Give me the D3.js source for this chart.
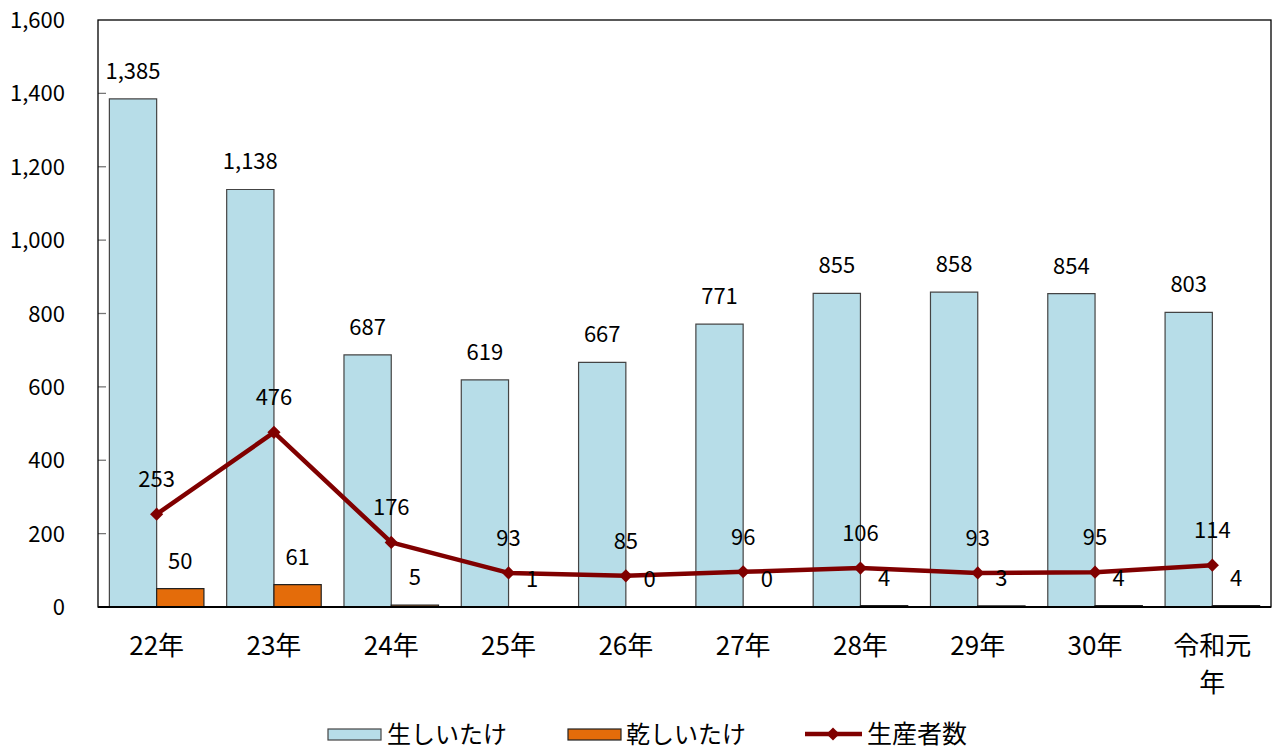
<!DOCTYPE html>
<html><head><meta charset="utf-8">
<script src="https://cdn.jsdelivr.net/npm/d3@7"></script>
<style>body{margin:0;background:#fff}svg{display:block}text{font-family:"Noto Sans CJK JP","Noto Sans",sans-serif;fill:#000}</style>
</head><body>
<svg id="c" width="1274" height="749"></svg>
<script>
const categories = ["22年","23年","24年","25年","26年","27年","28年","29年","30年","令和元年"];
const namaShiitake = [1385,1138,687,619,667,771,855,858,854,803];
const hoshiShiitake = [50,61,5,1,0,0,4,3,4,4];
const producers = [253,476,176,93,85,96,106,93,95,114];
const yTicks = [0,200,400,600,800,1000,1200,1400,1600];
const seriesNames = ["生しいたけ","乾しいたけ","生産者数"];

const svg = d3.select("#c");
const L = 98, R = 1271, T = 20, B = 607;
const x = d3.scaleBand().domain(categories).range([L, R]);
const y = d3.scaleLinear().domain([0,1600]).range([B, T]);
const bw = x.bandwidth()*0.403;
const fmt = d3.format(",");
const blue = "#b7dde8", orange = "#e46c0a", red = "#800000";

// y ticks
svg.append("g").selectAll("line").data(yTicks.slice(1,-1)).join("line")
  .attr("x1", L).attr("x2", L+8).attr("y1", d=>y(d)).attr("y2", d=>y(d))
  .attr("stroke", "#777").attr("stroke-width", 1.3);
svg.append("g").selectAll("text").data(yTicks).join("text")
  .attr("x", 65).attr("y", d=>y(d)+8).attr("text-anchor","end")
  .attr("font-size", 22).text(d=>fmt(d));

function barPath(x0, v){
  const y0 = y(0), y1 = y(v);
  return `M${x0},${y0}V${y1}H${x0+bw}V${y0}`;
}
const cx = d => x(d) + x.bandwidth()/2;

// blue bars
svg.append("g").selectAll("path").data(categories).join("path")
  .attr("d", (d,i)=>barPath(cx(d)-bw, namaShiitake[i]) + "Z")
  .attr("fill", blue).attr("stroke", "#444").attr("stroke-width", 1.2);
// orange bars
svg.append("g").selectAll("path").data(categories).join("path")
  .attr("d", (d,i)=>barPath(cx(d), hoshiShiitake[i]) + (hoshiShiitake[i]>0?"Z":""))
  .attr("fill", orange).attr("stroke", "#222").attr("stroke-width", 1.2);

// frame
svg.append("rect").attr("x", L).attr("y", T).attr("width", R-L).attr("height", B-T)
  .attr("fill","none").attr("stroke","#000").attr("stroke-width",1.3);
svg.append("line").attr("x1",L).attr("x2",R).attr("y1",B).attr("y2",B).attr("stroke","#000").attr("stroke-width",2);

// line
const line = d3.line().x((d,i)=>cx(categories[i])).y(d=>y(d));
svg.append("path").datum(producers).attr("d", line)
  .attr("fill","none").attr("stroke", red).attr("stroke-width", 4.5).attr("stroke-linejoin","round");
const diamond = d3.symbol().type(d3.symbolDiamond2).size(110);
svg.append("g").selectAll("path").data(producers).join("path")
  .attr("transform",(d,i)=>`translate(${cx(categories[i])},${y(d)})`)
  .attr("d", diamond).attr("fill", red);

// labels
svg.append("g").selectAll("text").data(namaShiitake).join("text")
  .attr("x",(d,i)=>cx(categories[i])-bw/2).attr("y", d=>y(d)-20)
  .attr("text-anchor","middle").attr("font-size",22).text(d=>fmt(d));
svg.append("g").selectAll("text").data(hoshiShiitake).join("text")
  .attr("x",(d,i)=>cx(categories[i])+bw/2).attr("y", d=>y(d)-20)
  .attr("text-anchor","middle").attr("font-size",22).text(d=>fmt(d));
svg.append("g").selectAll("text").data(producers).join("text")
  .attr("x",(d,i)=>cx(categories[i])).attr("y", d=>y(d)-27)
  .attr("text-anchor","middle").attr("font-size",22).text(d=>fmt(d));

// x labels
const xl = svg.append("g").selectAll("text").data(categories).join("text")
  .attr("x", d=>cx(d)).attr("y", 655).attr("text-anchor","middle").attr("font-size",26);
xl.each(function(d){
  const t = d3.select(this);
  if (d.length > 3) {
    t.append("tspan").attr("x", cx(d)).text(d.slice(0,3));
    t.append("tspan").attr("x", cx(d)).attr("dy", 37).text(d.slice(3));
  } else t.text(d);
});

// legend
const lg = svg.append("g");
lg.append("rect").attr("x",328).attr("y",729).attr("width",53).attr("height",11)
  .attr("fill",blue).attr("stroke","#444").attr("stroke-width",1.2);
lg.append("text").attr("x",387).attr("y",743).attr("font-size",24).text(seriesNames[0]);
lg.append("rect").attr("x",568).attr("y",729).attr("width",53).attr("height",11)
  .attr("fill",orange).attr("stroke","#222").attr("stroke-width",1.2);
lg.append("text").attr("x",626).attr("y",743).attr("font-size",24).text(seriesNames[1]);
lg.append("line").attr("x1",805).attr("x2",862).attr("y1",734).attr("y2",734)
  .attr("stroke",red).attr("stroke-width",4.5);
lg.append("path").attr("transform","translate(833,734)").attr("d",diamond).attr("fill",red);
lg.append("text").attr("x",867).attr("y",743).attr("font-size",25).text(seriesNames[2]);
</script>
</body></html>
